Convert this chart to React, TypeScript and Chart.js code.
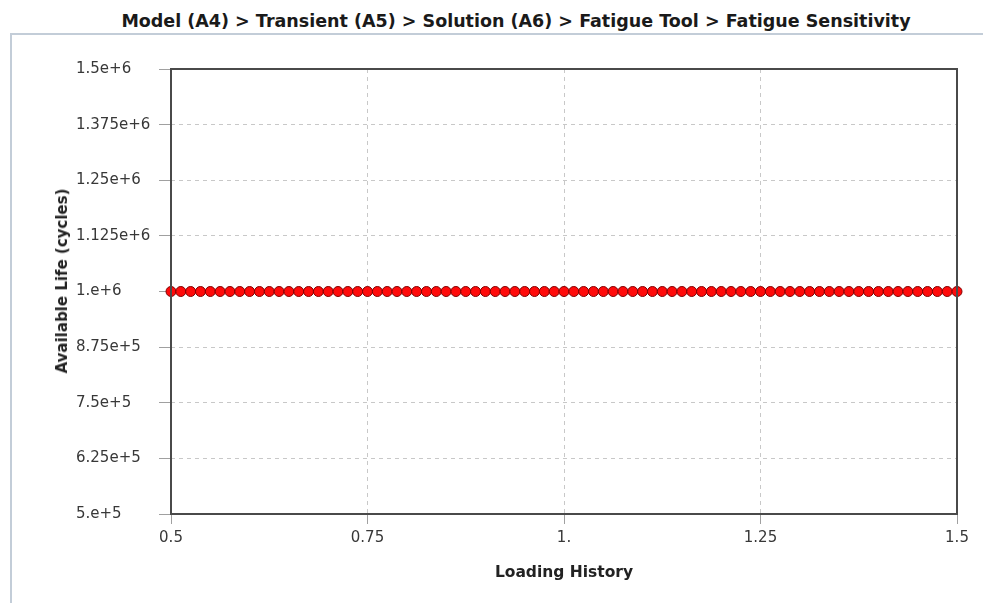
import React, { useEffect, useRef } from "react";
import { Chart, registerables } from "chart.js";

Chart.register(...registerables);

const chartTitle = "Model (A4) > Transient (A5) > Solution (A6) > Fatigue Tool > Fatigue Sensitivity";
const xAxisTitle = "Loading History";
const yAxisTitle = "Available Life (cycles)";
const seriesName = "Available Life";

const loadingHistory = [
  0.5, 0.5125, 0.525, 0.5375, 0.55, 0.5625, 0.575, 0.5875, 0.6, 0.6125,
  0.625, 0.6375, 0.65, 0.6625, 0.675, 0.6875, 0.7, 0.7125, 0.725, 0.7375,
  0.75, 0.7625, 0.775, 0.7875, 0.8, 0.8125, 0.825, 0.8375, 0.85, 0.8625,
  0.875, 0.8875, 0.9, 0.9125, 0.925, 0.9375, 0.95, 0.9625, 0.975, 0.9875,
  1.0, 1.0125, 1.025, 1.0375, 1.05, 1.0625, 1.075, 1.0875, 1.1, 1.1125,
  1.125, 1.1375, 1.15, 1.1625, 1.175, 1.1875, 1.2, 1.2125, 1.225, 1.2375,
  1.25, 1.2625, 1.275, 1.2875, 1.3, 1.3125, 1.325, 1.3375, 1.35, 1.3625,
  1.375, 1.3875, 1.4, 1.4125, 1.425, 1.4375, 1.45, 1.4625, 1.475, 1.4875,
  1.5,
];

const availableLife = [
  1e6, 1e6, 1e6, 1e6, 1e6, 1e6, 1e6, 1e6, 1e6, 1e6,
  1e6, 1e6, 1e6, 1e6, 1e6, 1e6, 1e6, 1e6, 1e6, 1e6,
  1e6, 1e6, 1e6, 1e6, 1e6, 1e6, 1e6, 1e6, 1e6, 1e6,
  1e6, 1e6, 1e6, 1e6, 1e6, 1e6, 1e6, 1e6, 1e6, 1e6,
  1e6, 1e6, 1e6, 1e6, 1e6, 1e6, 1e6, 1e6, 1e6, 1e6,
  1e6, 1e6, 1e6, 1e6, 1e6, 1e6, 1e6, 1e6, 1e6, 1e6,
  1e6, 1e6, 1e6, 1e6, 1e6, 1e6, 1e6, 1e6, 1e6, 1e6,
  1e6, 1e6, 1e6, 1e6, 1e6, 1e6, 1e6, 1e6, 1e6, 1e6,
  1e6,
];

const xTickValues = [0.5, 0.75, 1.0, 1.25, 1.5];
const xTickLabels = ["0.5", "0.75", "1.", "1.25", "1.5"];
const yTickValues = [500000, 625000, 750000, 875000, 1000000, 1125000, 1250000, 1375000, 1500000];
const yTickLabels = ["5.e+5", "6.25e+5", "7.5e+5", "8.75e+5", "1.e+6", "1.125e+6", "1.25e+6", "1.375e+6", "1.5e+6"];

function labelFor(values: number[], labels: string[], v: number): string {
  for (let i = 0; i < values.length; i++) {
    if (Math.abs(values[i] - v) < 1e-6 * Math.max(1, Math.abs(v))) return labels[i];
  }
  return "";
}

const framePlugin = {
  id: "frame",
  afterDraw(chart: any) {
    const { ctx, chartArea } = chart;
    ctx.save();
    ctx.strokeStyle = "#4a4a4a";
    ctx.lineWidth = 2;
    ctx.strokeRect(chartArea.left, chartArea.top, chartArea.right - chartArea.left, chartArea.bottom - chartArea.top);
    ctx.restore();
  },
};

const tickFont = "'DejaVu Sans', 'Open Sans', sans-serif";

export default function App() {
  const canvasRef = useRef<HTMLCanvasElement | null>(null);

  useEffect(() => {
    const canvas = canvasRef.current;
    if (!canvas) return;
    const chart = new Chart(canvas, {
      type: "line",
      data: {
        datasets: [
          {
            label: seriesName,
            data: loadingHistory.map((x, i) => ({ x, y: availableLife[i] })),
            borderColor: "#6e0000",
            borderWidth: 2,
            backgroundColor: "#ff0000",
            pointBackgroundColor: "#ff0a0a",
            pointBorderColor: "#800000",
            pointBorderWidth: 1,
            pointRadius: 5,
            pointStyle: "circle",
            clip: false,
          },
        ],
      },
      options: {
        responsive: false,
        animation: false,
        devicePixelRatio: 1,
        layout: { padding: { left: 76, right: 26, top: 69, bottom: 21 } },
        plugins: {
          legend: { display: false },
          title: { display: false },
          tooltip: { enabled: false },
        },
        scales: {
          x: {
            type: "linear",
            min: 0.5,
            max: 1.5,
            afterFit: (scale: any) => {
              scale.height = 68;
            },
            afterBuildTicks: (scale: any) => {
              scale.ticks = xTickValues.map((v) => ({ value: v }));
            },
            ticks: {
              padding: 5,
              color: "#383838",
              font: { family: tickFont, size: 15 },
              maxRotation: 0,
              autoSkip: false,
              callback: (v: any) => labelFor(xTickValues, xTickLabels, Number(v)),
            },
            grid: {
              color: "#c8c8c8",
              lineWidth: 1,
              tickLength: 10,
              tickColor: "#a0a0a0",
              tickBorderDash: [],
            },
            border: { display: false, dash: [4, 4] },
            title: {
              display: true,
              text: xAxisTitle,
              color: "#222222",
              font: { family: tickFont, size: 15.5, weight: "bold" },
              padding: { top: 0, bottom: 0 },
            },
          },
          y: {
            type: "linear",
            min: 500000,
            max: 1500000,
            afterFit: (scale: any) => {
              scale.width = 95;
            },
            afterBuildTicks: (scale: any) => {
              scale.ticks = yTickValues.map((v) => ({ value: v }));
            },
            ticks: {
              crossAlign: "far",
              padding: 4,
              color: "#383838",
              font: { family: tickFont, size: 15 },
              autoSkip: false,
              callback: (v: any) => labelFor(yTickValues, yTickLabels, Number(v)),
            },
            grid: {
              color: "#c8c8c8",
              lineWidth: 1,
              tickLength: 12,
              tickColor: "#a0a0a0",
              tickBorderDash: [],
            },
            border: { display: false, dash: [4, 4] },
            title: { display: false },
          },
        },
      },
      plugins: [framePlugin],
    });
    return () => chart.destroy();
  }, []);

  return (
    <div style={{ position: "absolute", left: 0, top: 0, width: 983, height: 603, background: "#ffffff", overflow: "hidden" }}>
      <div
        style={{
          position: "absolute",
          left: 10,
          top: 33,
          width: 1000,
          height: 600,
          borderLeft: "2px solid #c3cdd8",
          borderTop: "2px solid #c3cdd8",
        }}
      />
      <div
        style={{
          position: "absolute",
          left: 0,
          top: 10,
          width: 1032,
          textAlign: "center",
          fontFamily: "'DejaVu Sans', sans-serif",
          fontWeight: "bold",
          fontSize: 17.5,
          lineHeight: "22px",
          color: "#1a1a1a",
          whiteSpace: "nowrap",
        }}
      >
        {chartTitle}
      </div>
      <canvas ref={canvasRef} width={983} height={603} style={{ position: "absolute", left: 0, top: 0, width: 983, height: 603 }} />
      <div
        style={{
          position: "absolute",
          left: 62,
          top: 281,
          transform: "translate(-50%, -50%) rotate(-90deg)",
          fontFamily: tickFont,
          fontWeight: "bold",
          fontSize: 15,
          color: "#222222",
          whiteSpace: "nowrap",
          lineHeight: "20px",
        }}
      >
        {yAxisTitle}
      </div>
    </div>
  );
}
